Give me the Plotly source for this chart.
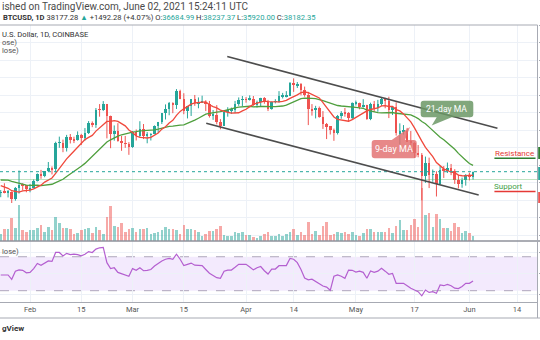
import pandas as pd
import plotly.graph_objects as go

# ---------------- data: BTCUSD daily, Coinbase ----------------
start_day = "2021-01-24"

opens = [
    32100, 32290, 32260, 32500, 30410, 33420, 34300, 34290,
    33110, 33520, 35490, 37620, 36920, 38290, 39260, 38880, 46450, 46500, 44850, 47970, 47420, 47190,
    48620, 47940, 49200, 52170, 51600, 55920, 55900, 57490, 54140, 48890, 49720, 47020, 46300, 46140,
    45200, 49600, 48400, 50400, 48400, 48800, 48900, 51200, 52400, 54900, 56000, 57800, 57200, 61200,
    59000, 55600, 56900, 58900, 57700, 58000, 58100, 57400, 54100, 54400, 52300, 51300, 55100, 55800,
    55800, 57600, 58800,
    58800, 58700, 59000, 57100, 58200, 59100, 58000, 56000, 58100, 58100, 59800, 59800, 59800, 63600,
    62900, 63200, 61400, 60000, 56200, 55700, 56500, 53800, 51700, 51200, 50100, 49100, 54000, 55000,
    54900, 53600,
    57800, 57800, 56600, 57200, 53200, 57500, 56400, 57400, 58900, 58300, 55800, 56700, 49200, 49700,
    49900, 46800, 46400, 43600, 42900, 37000, 40800, 37300, 37500, 34700, 38800, 38400, 39300, 38500,
    35700, 34600, 35700,
    37300, 36684.99,
]
highs = [
    32950, 34880, 32950, 32560, 33800, 38530, 34900, 34330,
    34700, 35970, 37700, 38700, 38300, 40950, 39700, 46750, 48200, 47350, 48700, 48950, 48180, 49700,
    49000, 50650, 52650, 52550, 56370, 57500, 58350, 57540, 54200, 51400, 52050, 48400, 48400, 46620,
    49800, 50250, 52600, 51800, 49500, 49200, 51400, 52400, 54900, 57400, 58100, 58000, 61780, 61600,
    60600, 56900, 58900, 60100, 59400, 59900, 58600, 58400, 55800, 57200, 53200, 55100, 56600, 56500,
    58400, 59400, 59800,
    59500, 60000, 59800, 58500, 59300, 59500, 58700, 58200, 58900, 61200, 60700, 61200, 63800, 64850,
    63800, 63500, 62500, 61000, 57500, 57000, 56800, 55500, 52100, 51200, 50500, 54400, 55500, 56400,
    55200, 58000,
    58500, 57900, 58900, 57300, 57900, 58400, 58700, 59500, 59300, 59600, 56900, 58000, 52000, 51500,
    50700, 49800, 46600, 45800, 43500, 42500, 42200, 38800, 38300, 39900, 39800, 40800, 40400, 38900,
    37300, 36500, 37500,
    37900, 38237.37,
]
lows = [
    30900, 32000, 30830, 29240, 29900, 31940, 32860, 32300,
    32300, 33420, 35380, 36160, 36600, 38150, 37400, 37990, 45000, 43750, 43950, 46250, 46350, 47050,
    45800, 47050, 48950, 50900, 50700, 53900, 55500, 47700, 44900, 47050, 46750, 44150, 45000, 43000,
    45000, 47100, 48100, 47500, 46300, 47100, 48900, 49300, 51800, 53100, 54300, 54900, 56100, 58900,
    54600, 53400, 54100, 57000, 56300, 57800, 55500, 53650, 53000, 51700, 50300, 51300, 53900, 54700,
    54900, 57000, 56900,
    57900, 58500, 57000, 56500, 56800, 57600, 55500, 55900, 57700, 57900, 59100, 59400, 59800, 61000,
    62100, 60000, 59600, 51500, 54200, 53400, 53600, 50400, 47500, 48800, 47000, 48800, 53300, 53900,
    52400, 53000,
    57100, 56000, 56500, 53000, 52900, 55300, 55300, 56900, 56300, 53500, 54400, 48500, 46000, 48800,
    46700, 43900, 42100, 42300, 30000, 35000, 33500, 35300, 31100, 34600, 36400, 37800, 37200, 34700,
    33400, 33600, 34200,
    35700, 35920.00,
]
closes = [
    32290, 32260, 32500, 30410, 33420, 34300, 34290, 33110,
    33520, 35490, 37620, 36920, 38290, 39260, 38880, 46450, 46500, 44850, 47970, 47420, 47190, 48620,
    47940, 49200, 52170, 51600, 55920, 55900, 57490, 54140, 48890, 49720, 47020, 46300, 46140, 45200,
    49600, 48400, 50400, 48400, 48800, 48900, 51200, 52400, 54900, 56000, 57800, 57200, 61200, 59000,
    55600, 56900, 58900, 57700, 58000, 58100, 57400, 54100, 54400, 52300, 51300, 55100, 55800, 55800,
    57600, 58800, 58800,
    58700, 59000, 57100, 58200, 59100, 58000, 56000, 58100, 58100, 59800, 59800, 59800, 63600, 62900,
    63200, 61400, 60000, 56200, 55700, 56500, 53800, 51700, 51200, 50100, 49100, 54000, 55000, 54900,
    53600, 57800,
    57800, 56600, 57200, 53200, 57500, 56400, 57400, 58900, 58300, 55800, 56700, 49200, 49700, 49900,
    46800, 46400, 43600, 42900, 37000, 40800, 37300, 37500, 34700, 38800, 38400, 39300, 38500, 35700,
    34600, 35700, 37300,
    36700, 38182.35,
]
# closes of Jan 4 - Jan 23, only used to start the moving averages
warmup_closes = [
    31990, 33950, 36800, 39400, 40600, 40100, 38150, 35500, 34000, 37400,
    39150, 36800, 36000, 35800, 36600, 35900, 35500, 30850, 33000, 32100,
]
# daily volume, thousand BTC
volumes_k = [
    14, 24, 24, 46, 26, 72, 22, 18, 22, 22, 26, 32, 18, 28, 22, 48, 36, 26, 26, 24, 14, 16, 22, 24, 26,
    16, 28, 22, 14, 48, 70, 30, 28, 36, 18, 24, 26, 18, 24, 24, 26, 14, 16, 18, 22, 28, 24, 24, 22,
    14, 32, 24, 24, 22, 18, 10, 14, 20, 20, 24, 30, 12, 10, 10, 18, 16, 18, 12, 12, 8, 6, 10, 14, 18,
    10, 10, 14, 10, 14, 18, 24, 12, 18, 12, 38, 14, 20, 12, 30, 38, 12, 14, 18, 16, 18, 14, 18, 12, 10,
    16, 24, 24, 18, 18, 18, 18, 26, 16, 30, 42, 22, 22, 32, 44, 28, 106, 52, 56, 28, 54, 44, 26, 26,
    20, 36, 28, 16, 20, 16, 10,
]
# RSI(14, close)
rsi14 = [
    48.5, 48.5, 48.5, 43.4, 53, 54.5, 54, 51, 51.5, 56,
    62, 60, 63, 65, 64.5, 75, 75, 71, 74, 72.5,
    73, 72.5, 71, 73, 76, 75, 79, 80.5, 81, 63,
    56, 57, 51.5, 50, 49, 47, 56, 54, 57, 53.5,
    54, 55, 59, 62.5, 65, 67, 68, 67, 73, 67,
    59.5, 61, 62.5, 60, 60, 59.5, 55, 50.5, 48, 45.3,
    44.5, 53, 54.3, 54.3, 57.5, 61, 61, 61, 58, 54.5,
    57, 58.5, 53.5, 49.6, 55.5, 55.5, 59.4, 59.4, 59.5, 68,
    67, 63, 55, 45, 42.8, 43.5, 41, 37.5, 35.5, 34.3,
    30.5, 47, 48.5, 47, 44.6, 54.3, 54, 52, 53,
    51.6, 44.6, 53.2, 51.6, 53, 56.3, 53, 49.3, 50.4, 38.7,
    38.7, 38.7, 35.9, 32.8, 30.8, 28.8, 24, 30.8, 28, 28.8,
    26.9, 36.7, 35.9, 37.5, 35.9, 33, 32.5, 35, 38.7, 38.7, 41.4,
]

tick_dates = ["2021-02-01", "2021-02-15", "2021-03-01", "2021-03-15", "2021-04-01",
              "2021-04-14", "2021-05-01", "2021-05-17", "2021-06-01", "2021-06-14"]
tick_labels = ["Feb", "15", "Mar", "15", "Apr", "14", "May", "17", "Jun", "14"]

# descending channel drawn on the chart
upper_channel_t = ["2021-03-26 20:38", "2021-06-08 16:00"]
upper_channel_p = [71095, 50582]
lower_channel_t = ["2021-03-21 03:00", "2021-06-03 13:00"]
lower_channel_p = [52010, 31525]
level_t = ["2021-06-07 20:00", "2021-06-19 01:30"]
resistance_level = 42000
support_level = 32500
prior_level = 35950

# ---------------- derived series ----------------
dates = pd.date_range(start_day, periods=len(closes), freq="D")
all_closes = pd.Series(warmup_closes + closes)
ma9 = all_closes.rolling(9).mean().iloc[len(warmup_closes):].tolist()
ma21 = all_closes.rolling(21).mean().iloc[len(warmup_closes):].tolist()

UP = "#26a69a"
DOWN = "#ef5350"
up_flags = [c >= o for o, c in zip(opens, closes)]

# ---------------- figure geometry (pixels) ----------------
W, H = 540, 340
def px(x):
    return x / W
def py(y):
    return 1 - y / H

PLOT_RIGHT = 537.5
MAIN_TOP, MAIN_BOTTOM = 25, 241
RSI_BOTTOM = 302

fig = go.Figure()

# volume histogram (base axis, drawn behind price)
fig.add_trace(go.Bar(
    x=dates, y=volumes_k, xaxis="x", yaxis="y",
    width=0.7 * 86400000,
    marker=dict(color=[("rgba(38,166,154,0.5)" if u else "rgba(239,83,80,0.5)") for u in up_flags],
                line=dict(width=0)),
    hoverinfo="skip",
))

# candle wicks
for flag, col in ((True, UP), (False, DOWN)):
    wx, wy = [], []
    for d, hi, lo, u in zip(dates, highs, lows, up_flags):
        if u == flag:
            wx += [d, d, None]
            wy += [lo, hi, None]
    fig.add_trace(go.Scatter(x=wx, y=wy, mode="lines", xaxis="x", yaxis="y2",
                             line=dict(color=col, width=1), hoverinfo="skip"))

# candle bodies
body_base = [min(o, c) for o, c in zip(opens, closes)]
body_len = [max(abs(c - o), 150) for o, c in zip(opens, closes)]
fig.add_trace(go.Bar(
    x=dates, y=body_len, base=body_base, xaxis="x", yaxis="y2",
    width=0.7 * 86400000,
    marker=dict(color=[UP if u else DOWN for u in up_flags], line=dict(width=0)),
    hoverinfo="skip",
))

# moving averages
fig.add_trace(go.Scatter(x=dates, y=ma21, mode="lines", xaxis="x", yaxis="y2",
                         line=dict(color="#4f9f3e", width=1.3), hoverinfo="skip"))
fig.add_trace(go.Scatter(x=dates, y=ma9, mode="lines", xaxis="x", yaxis="y2",
                         line=dict(color="#f0493c", width=1.3), hoverinfo="skip"))

# RSI
fig.add_trace(go.Scatter(x=dates, y=rsi14, mode="lines", xaxis="x", yaxis="y3",
                         line=dict(color="#b45fd0", width=1.2), hoverinfo="skip"))

grid = "#edf1f7"
axis_line = "#a7aab3"

shapes = []
# RSI band and bounds
shapes.append(dict(type="rect", xref="paper", yref="y3", x0=0, x1=px(PLOT_RIGHT), y0=30, y1=70,
                   fillcolor="rgba(165,90,240,0.13)", line=dict(width=0), layer="below"))
for lvl in (70, 30):
    shapes.append(dict(type="line", xref="paper", yref="y3", x0=0, x1=px(PLOT_RIGHT), y0=lvl, y1=lvl,
                       line=dict(color="rgba(150,140,165,0.75)", width=1, dash="dash"), layer="below"))

# last price and prior level lines
shapes.append(dict(type="line", xref="paper", yref="y2", x0=0, x1=px(PLOT_RIGHT),
                   y0=closes[-1], y1=closes[-1], line=dict(color=UP, width=1, dash="dot")))
shapes.append(dict(type="line", xref="paper", yref="y2", x0=0, x1=px(PLOT_RIGHT),
                   y0=prior_level, y1=prior_level, line=dict(color="rgba(76,175,80,0.35)", width=1)))

# channel
shapes.append(dict(type="line", xref="x", yref="y2",
                   x0=upper_channel_t[0], x1=upper_channel_t[1], y0=upper_channel_p[0], y1=upper_channel_p[1],
                   line=dict(color="#4d4d4d", width=1.5)))
shapes.append(dict(type="line", xref="x", yref="y2",
                   x0=lower_channel_t[0], x1=lower_channel_t[1], y0=lower_channel_p[0], y1=lower_channel_p[1],
                   line=dict(color="#4d4d4d", width=1.5)))

# resistance / support underlines
shapes.append(dict(type="line", xref="x", yref="y2", x0=level_t[0], x1=level_t[1],
                   y0=resistance_level, y1=resistance_level, line=dict(color="#2e7d32", width=1.5)))
shapes.append(dict(type="line", xref="x", yref="y2", x0=level_t[0], x1=level_t[1],
                   y0=support_level, y1=support_level, line=dict(color="#e53935", width=1.5)))


def callout(x0, y0, x1, y1, tail, apex, r=3, on_top=False):
    """Rounded box with a pointer, in pixel units, as a paper path."""
    def P(x, y):
        return f"{px(x):.5f},{py(y):.5f}"
    ta, tb = tail
    parts = [f"M {P(x0 + r, y0)}"]
    if on_top:
        parts += [f"L {P(ta, y0)}", f"L {P(*apex)}", f"L {P(tb, y0)}"]
    parts += [f"L {P(x1 - r, y0)}", f"Q {P(x1, y0)} {P(x1, y0 + r)}",
              f"L {P(x1, y1 - r)}", f"Q {P(x1, y1)} {P(x1 - r, y1)}"]
    if not on_top:
        parts += [f"L {P(tb, y1)}", f"L {P(*apex)}", f"L {P(ta, y1)}"]
    parts += [f"L {P(x0 + r, y1)}", f"Q {P(x0, y1)} {P(x0, y1 - r)}",
              f"L {P(x0, y0 + r)}", f"Q {P(x0, y0)} {P(x0 + r, y0)}", "Z"]
    return " ".join(parts)


shapes.append(dict(type="path", xref="paper", yref="paper",
                   path=callout(420.7, 100.7, 473.3, 117.3, (436.7, 451.7), (431.7, 125.5)),
                   fillcolor="rgba(107,152,101,0.85)", line=dict(width=0)))
shapes.append(dict(type="path", xref="paper", yref="paper",
                   path=callout(371.7, 140.0, 416.7, 158.3, (391.7, 405.0), (410.0, 127.0), on_top=True),
                   fillcolor="rgba(226,110,110,0.82)", line=dict(width=0)))

# pane borders
shapes.append(dict(type="line", xref="paper", yref="paper", x0=0, x1=px(PLOT_RIGHT),
                   y0=py(MAIN_TOP), y1=py(MAIN_TOP), line=dict(color=axis_line, width=1)))
shapes.append(dict(type="line", xref="paper", yref="paper", x0=0, x1=1,
                   y0=py(MAIN_BOTTOM), y1=py(MAIN_BOTTOM), line=dict(color="#8f929b", width=1.6)))
shapes.append(dict(type="line", xref="paper", yref="paper", x0=0, x1=1,
                   y0=py(318), y1=py(318), line=dict(color=axis_line, width=1)))
shapes.append(dict(type="line", xref="paper", yref="paper", x0=px(PLOT_RIGHT), x1=px(PLOT_RIGHT),
                   y0=py(MAIN_TOP), y1=py(318), line=dict(color=axis_line, width=1)))

# price-scale label edges visible at the right border
for (ya, yb, col) in ((147, 159, "#2e7d32"), (167, 180, UP), (192, 203, DOWN)):
    shapes.append(dict(type="rect", xref="paper", yref="paper", x0=px(538.2), x1=1,
                       y0=py(yb), y1=py(ya), fillcolor=col, line=dict(width=0)))

FONT = "Roboto, Arial, sans-serif"
annotations = []


def text(s, x, y, size, color="#3b3b3b", anchor="left"):
    annotations.append(dict(text=s, x=px(x), y=py(y), xref="paper", yref="paper",
                            xanchor=anchor, yanchor="middle", showarrow=False,
                            font=dict(family=FONT, size=size, color=color)))


# header (left part of these lines runs past the window edge)
text("ished on TradingView.com, June 02, 2021 15:24:11 UTC", 0, 6, 10, "#4a4a4a", "left")
text("<b>BTCUSD, 1D</b> 38177.28 <span style='color:#26a69a'>▲</span> +1492.28 (+4.07%) "
     "O:<span style='color:#26a69a'>36684.99</span> H:<span style='color:#26a69a'>38237.37</span> "
     "L:<span style='color:#26a69a'>35920.00</span> C:<span style='color:#26a69a'>38182.35</span>",
     0.7, 17, 7.6, "#333333", "left")
text("U.S. Dollar, 1D, COINBASE", 0, 35, 7.6, "#333333", "left")
text("ose)", 0, 42.7, 7.6, "#555555", "left")
text("lose)", 0, 50, 7.6, "#555555", "left")
text("lose)", 0, 251.7, 7.6, "#555555", "left")
text("<b>gView</b>", 0, 328.3, 8, "#333333", "left")

# callout and level labels
text("21-day MA", 447, 109, 8.6, "#ffffff", "center")
text("9-day MA", 394.2, 149.2, 9, "#ffffff", "center")
text("Resistance", 514, 153.3, 8, "#e53935", "center")
text("Support", 509, 186.7, 8, "#43a047", "center")

fig.update_layout(
    width=W, height=H,
    margin=dict(l=0, r=0, t=0, b=0),
    paper_bgcolor="#ffffff", plot_bgcolor="#ffffff",
    showlegend=False, barmode="overlay", bargap=0,
    font=dict(family=FONT, size=8, color="#555555"),
    xaxis=dict(
        domain=[0, px(PLOT_RIGHT)], anchor="y3", type="date",
        range=["2021-01-23 19:12", "2021-06-19 14:24"],
        tickvals=tick_dates, ticktext=tick_labels,
        tickfont=dict(family=FONT, size=7.5, color="#555555"),
        showgrid=True, gridcolor=grid, gridwidth=1,
        showline=True, linecolor=axis_line, linewidth=1,
        ticks="", zeroline=False, fixedrange=True,
    ),
    yaxis=dict(
        domain=[py(MAIN_BOTTOM), py(MAIN_TOP)], anchor="x",
        range=[0, 432], visible=False, fixedrange=True,
    ),
    yaxis2=dict(
        overlaying="y", anchor="x", side="right",
        range=[18383, 80094], tick0=0, dtick=5000,
        showgrid=True, gridcolor=grid, gridwidth=1,
        ticks="outside", ticklen=3, tickcolor=axis_line,
        showticklabels=False, showline=False, zeroline=False, fixedrange=True,
    ),
    yaxis3=dict(
        domain=[py(RSI_BOTTOM), py(MAIN_BOTTOM)], anchor="x", side="right",
        range=[16.7, 88.5], tickvals=[25, 50, 75],
        showgrid=True, gridcolor=grid, gridwidth=1,
        ticks="outside", ticklen=3, tickcolor=axis_line,
        showticklabels=False, showline=False, zeroline=False, fixedrange=True,
    ),
    shapes=shapes,
    annotations=annotations,
)

fig.write_html("out.html")
